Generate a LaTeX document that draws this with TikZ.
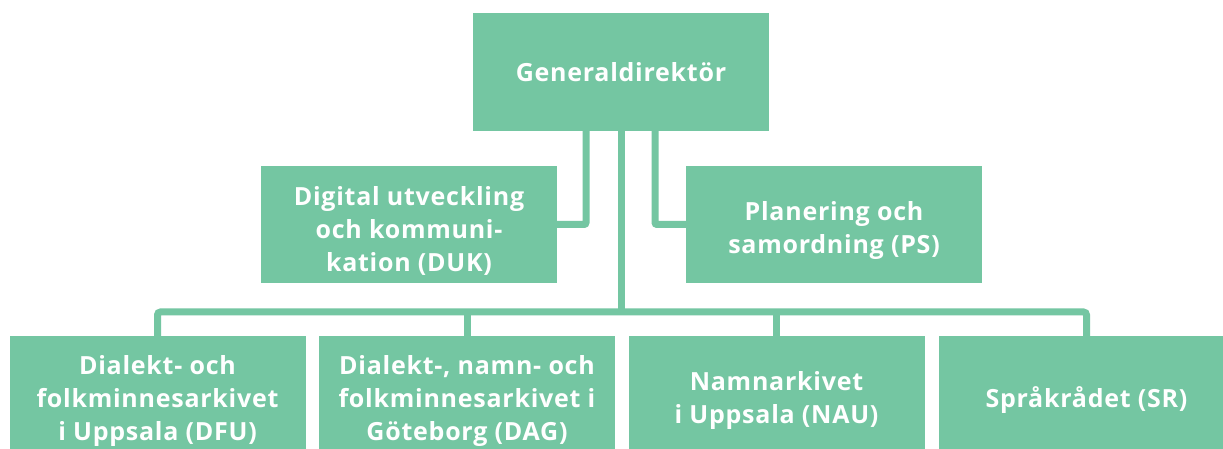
\documentclass[tikz,border=0pt]{standalone}
\usepackage{fontspec}
\setmainfont{Open Sans}[Ligatures=NoCommon,LetterSpace=3]
\definecolor{mint}{RGB}{116,198,162}
\newcommand{\toprow}{\rule{0pt}{31pt}}
\tikzset{
  unit/.style={fill=mint,text=white,font=\bfseries\fontsize{25}{33}\selectfont,
    align=center,inner sep=0pt,minimum width=296pt,minimum height=118pt},
  conn/.style={draw=mint,line width=7pt}
}
\begin{document}
\begin{tikzpicture}[x=1pt,y=1pt]
\clip (0,0) rectangle (1223,449);
\fill[white] (0,0) rectangle (1223,449);

% top level
\node[unit] (gd) at (621,377) {Generaldirektör};

% staff units
\node[unit,minimum height=117pt] (duk) at (409,224.5) {\toprow Digital utveckling\\och kommuni-\\kation (DUK)};
\node[unit,minimum height=117pt] (ps) at (834,224.5) {\toprow Planering och\\samordning (PS)};

% departments
\node[unit] (dfu) at (157.5,54) {\toprow Dialekt- och\\folkminnesarkivet\\i Uppsala (DFU)};
\node[unit] (dag) at (467,54) {\toprow Dialekt-, namn- och\\folkminnesarkivet i\\Göteborg (DAG)};
\node[unit] (nau) at (776.5,54) {\toprow Namnarkivet\\i Uppsala (NAU)};
\node[unit] (sr) at (1086.5,54) {\toprow Språkrådet (SR)};

\coordinate (bar) at (621,137);

\draw[conn,rounded corners=2pt] ([xshift=-35pt]gd.south) |- (duk.east);
\draw[conn,rounded corners=2pt] ([xshift=34pt]gd.south) |- (ps.west);
\draw[conn] (gd.south) -- (bar);
\draw[conn,rounded corners=3pt] (dfu.north) |- (bar) -| (sr.north);
\draw[conn] (dag.north) -- (dag.north |- bar);
\draw[conn] (nau.north) -- (nau.north |- bar);
\end{tikzpicture}
\end{document}
